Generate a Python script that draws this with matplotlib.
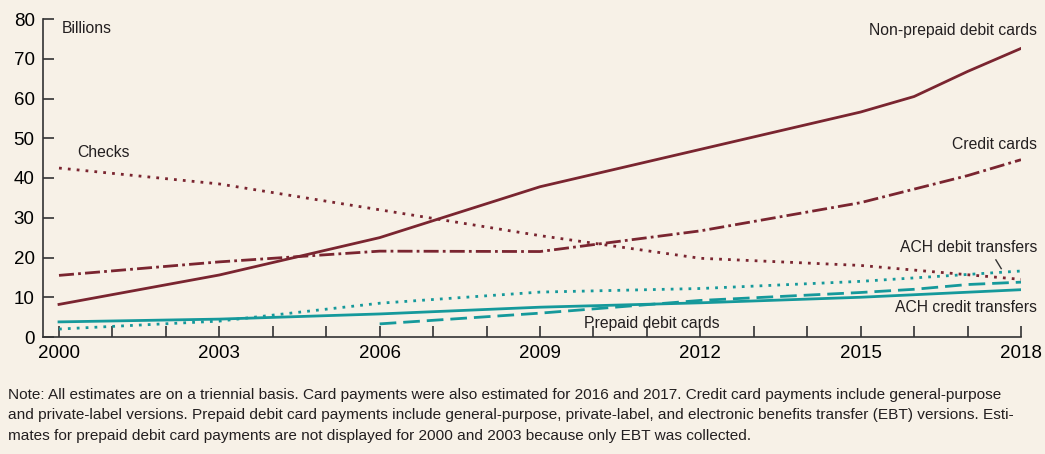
import matplotlib.pyplot as plt
import matplotlib.font_manager as fm

names = set(f.name for f in fm.fontManager.ttflist)
fam = ['Liberation Sans Narrow', 'DejaVu Sans'] if 'Liberation Sans Narrow' in names else ['Liberation Sans', 'DejaVu Sans']
plt.rcParams['font.family'] = fam

maroon = '#7a2530'
teal = '#15999b'
bg = '#f7f1e7'

yrs_card = [2000, 2003, 2006, 2009, 2012, 2015, 2016, 2017, 2018]
nonprepaid = [8.2, 15.6, 25.0, 37.8, 47.2, 56.6, 60.5, 66.8, 72.6]
credit = [15.5, 18.9, 21.6, 21.5, 26.7, 33.8, 37.2, 40.6, 44.6]

yrs_tri = [2000, 2003, 2006, 2009, 2012, 2015, 2018]
checks = [42.5, 38.5, 32.0, 25.5, 19.8, 18.0, 14.5]
ach_debit = [2.0, 4.0, 8.5, 11.3, 12.2, 14.0, 16.6]
ach_credit = [3.8, 4.5, 5.8, 7.5, 8.6, 10.0, 11.9]

yrs_prepaid = [2006, 2009, 2012, 2015, 2016, 2017, 2018]
prepaid = [3.3, 6.0, 9.2, 11.2, 12.0, 13.2, 13.8]

fig = plt.figure(figsize=(10.45, 4.54), dpi=100, facecolor=bg)
ax = fig.add_axes([43/1045, 1-337/454, (1021-43)/1045, (337-19)/454], facecolor=bg)

lw = 2.0
ax.plot(yrs_card, nonprepaid, '-', color=maroon, lw=lw)
ax.plot(yrs_card, credit, '-.', color=maroon, lw=lw, dashes=(5.4, 1.5, 1, 1.5))
ax.plot(yrs_tri, checks, ':', color=maroon, lw=lw, dashes=(1, 2.2))
ax.plot(yrs_tri, ach_debit, ':', color=teal, lw=lw, dashes=(1, 2.2))
ax.plot(yrs_tri, ach_credit, '-', color=teal, lw=lw)
ax.plot(yrs_prepaid, prepaid, '--', color=teal, lw=lw, dashes=(6, 2.5))

x0 = 2000 - 16/53.44
ax.set_xlim(x0, 2018)
ax.set_ylim(0, 80)
ax.set_xticks(range(2000, 2019, 3))
ax.set_xticks(range(2000, 2019), minor=True)
ax.set_yticks(range(0, 81, 10))
for s in ['top', 'right']:
    ax.spines[s].set_visible(False)
for s in ['left', 'bottom']:
    ax.spines[s].set_color('#333333')
    ax.spines[s].set_linewidth(1.2)
ax.tick_params(axis='both', which='both', direction='in', color='#333333', width=1.2)
ax.tick_params(axis='x', which='both', length=8, labelsize=13.5, pad=6)
ax.tick_params(axis='y', length=8, labelsize=13.5, pad=6)

tc = '#231f20'
fs = 11.3
ax.text(2000.05, 77.5, 'Billions', fontsize=fs, color=tc, va='center')
ax.text(2000.35, 46.3, 'Checks', fontsize=fs, color=tc, va='center')
ax.text(2018.3, 77.2, 'Non-prepaid debit cards', fontsize=fs, color=tc, va='center', ha='right')
ax.text(2018.3, 48.5, 'Credit cards', fontsize=fs, color=tc, va='center', ha='right')
ax.text(2018.3, 22.5, 'ACH debit transfers', fontsize=fs, color=tc, va='center', ha='right')
ax.text(2018.3, 7.5, 'ACH credit transfers', fontsize=fs, color=tc, va='center', ha='right')
ax.text(2011.1, 3.4, 'Prepaid debit cards', fontsize=fs, color=tc, va='center', ha='center')
ax.plot([2017.53, 2017.63], [19.4, 17.2], color='#333333', lw=1)

note = ("Note: All estimates are on a triennial basis. Card payments were also estimated for 2016 and 2017. Credit card payments include general-purpose\n"
        "and private-label versions. Prepaid debit card payments include general-purpose, private-label, and electronic benefits transfer (EBT) versions. Esti-\n"
        "mates for prepaid debit card payments are not displayed for 2000 and 2003 because only EBT was collected.")
fig.text(8/1045, 1-388/454, note, fontsize=11.1, color=tc, va='top', ha='left', linespacing=1.58)

fig.savefig('out.png', dpi=100, facecolor=bg)
